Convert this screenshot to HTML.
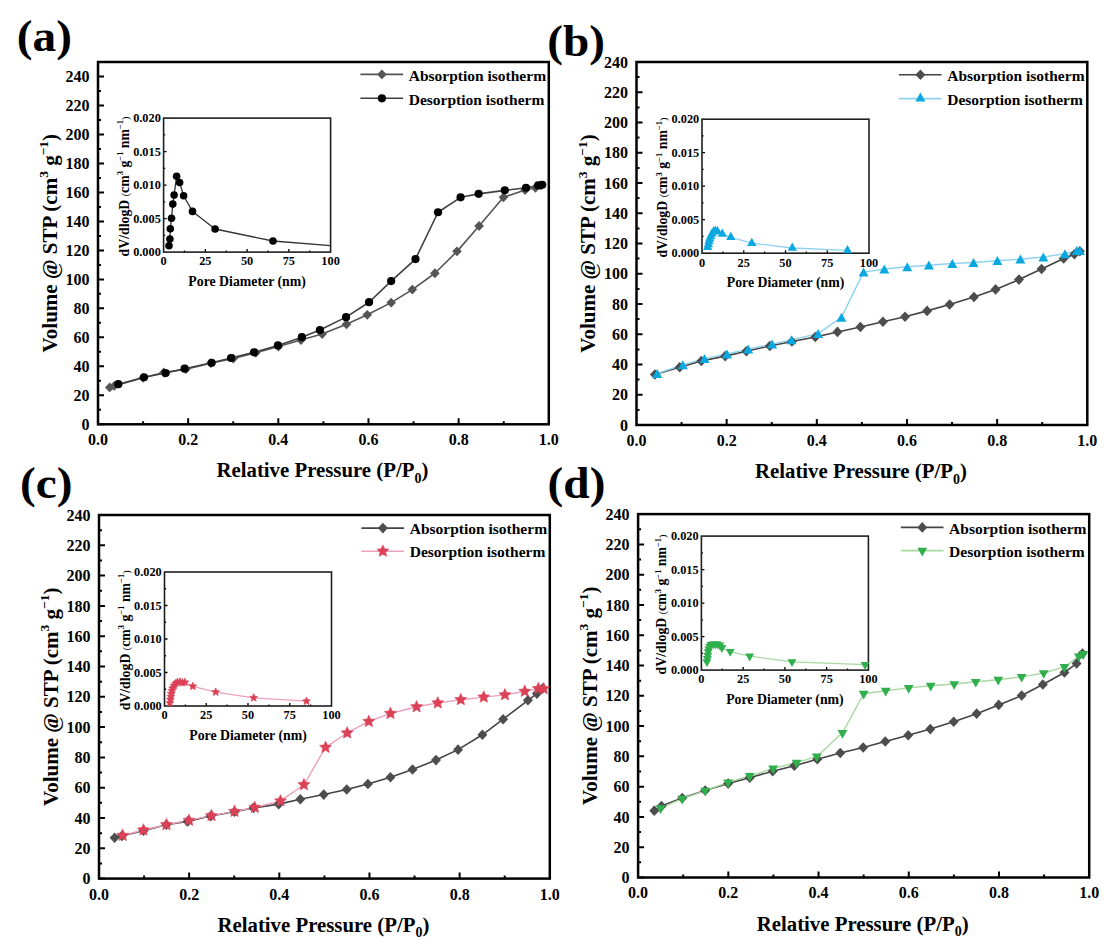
<!DOCTYPE html>
<html><head><meta charset="utf-8"><style>
html,body{margin:0;padding:0;background:#fff;}
body{width:1112px;height:946px;overflow:hidden;}
svg{display:block;}
text{font-family:'Liberation Serif', serif;font-weight:bold;fill:#000;}
</style></head><body>
<svg width="1112" height="946" viewBox="0 0 1112 946">
<rect width="1112" height="946" fill="#fff"/>
<path d="M98 424.3h6M98 409.81h3M98 395.32h6M98 380.82h3M98 366.33h6M98 351.84h3M98 337.35h6M98 322.86h3M98 308.36h6M98 293.87h3M98 279.38h6M98 264.89h3M98 250.4h6M98 235.9h3M98 221.41h6M98 206.92h3M98 192.43h6M98 177.94h3M98 163.44h6M98 148.95h3M98 134.46h6M98 119.97h3M98 105.48h6M98 90.98h3M98 76.49h6M143.08 424.3v-3M188.16 424.3v-6M233.24 424.3v-3M278.32 424.3v-6M323.4 424.3v-3M368.48 424.3v-6M413.56 424.3v-3M458.64 424.3v-6M503.72 424.3v-3" stroke="#000" stroke-width="2" fill="none"/>
<rect x="98" y="62" width="450.8" height="362.3" fill="none" stroke="#000" stroke-width="2.5"/>
<text x="89.4" y="429.9" font-size="16" text-anchor="end" >0</text>
<text x="89.4" y="400.92" font-size="16" text-anchor="end" >20</text>
<text x="89.4" y="371.93" font-size="16" text-anchor="end" >40</text>
<text x="89.4" y="342.95" font-size="16" text-anchor="end" >60</text>
<text x="89.4" y="313.96" font-size="16" text-anchor="end" >80</text>
<text x="89.4" y="284.98" font-size="16" text-anchor="end" >100</text>
<text x="89.4" y="256" font-size="16" text-anchor="end" >120</text>
<text x="89.4" y="227.01" font-size="16" text-anchor="end" >140</text>
<text x="89.4" y="198.03" font-size="16" text-anchor="end" >160</text>
<text x="89.4" y="169.04" font-size="16" text-anchor="end" >180</text>
<text x="89.4" y="140.06" font-size="16" text-anchor="end" >200</text>
<text x="89.4" y="111.08" font-size="16" text-anchor="end" >220</text>
<text x="89.4" y="82.09" font-size="16" text-anchor="end" >240</text>
<text x="98" y="445.2" font-size="16" text-anchor="middle" >0.0</text>
<text x="188.16" y="445.2" font-size="16" text-anchor="middle" >0.2</text>
<text x="278.32" y="445.2" font-size="16" text-anchor="middle" >0.4</text>
<text x="368.48" y="445.2" font-size="16" text-anchor="middle" >0.6</text>
<text x="458.64" y="445.2" font-size="16" text-anchor="middle" >0.8</text>
<text x="548.8" y="445.2" font-size="16" text-anchor="middle" >1.0</text>
<text x="322.4" y="477.3" font-size="20.8" text-anchor="middle">Relative Pressure (P/P<tspan font-size="14" dy="5.6">0</tspan><tspan dy="-5.6">)</tspan></text>
<text transform="translate(56.5 243.15) rotate(-90)" x="0" y="0" font-size="21" text-anchor="middle">Volume @ STP (cm<tspan font-size="13.5" dy="-8.5">3</tspan><tspan dy="8.5"> g</tspan><tspan font-size="13.5" dy="-8.5">&#8722;1</tspan><tspan dy="8.5">)</tspan></text>
<text transform="translate(16.8 50.9) scale(1.075 1.01)" x="0" y="0" font-size="44">(a)</text>
<path d="M360.4 74.4L403.1 74.4" fill="none" stroke="#555" stroke-width="1.6" stroke-linejoin="round"/>
<path d="M381.9 69.5L386.7 74.4L381.9 79.3L377.1 74.4Z" fill="#555"/>
<path d="M360.4 98.3L403.1 98.3" fill="none" stroke="#404040" stroke-width="1.6" stroke-linejoin="round"/>
<circle cx="381.9" cy="98.3" r="4.1" fill="#000"/>
<text x="408.7" y="80.6" font-size="15.5" text-anchor="start" >Absorption isotherm</text>
<text x="408.7" y="104.5" font-size="15.5" text-anchor="start" >Desorption isotherm</text>
<path d="M163.6 235.35h1.6M163.6 218.6h3M163.6 201.85h1.6M163.6 185.1h3M163.6 168.35h1.6M163.6 151.6h3M163.6 134.85h1.6M184.47 252.1v-1.6M205.35 252.1v-3M226.22 252.1v-1.6M247.1 252.1v-3M267.98 252.1v-1.6M288.85 252.1v-3M309.73 252.1v-1.6" stroke="#000" stroke-width="1.3" fill="none"/>
<rect x="163.6" y="118.1" width="167" height="134" fill="none" stroke="#1e1e1e" stroke-width="1.6"/>
<text x="160.8" y="256.3" font-size="12.3" text-anchor="end" >0.000</text>
<text x="160.8" y="222.8" font-size="12.3" text-anchor="end" >0.005</text>
<text x="160.8" y="189.3" font-size="12.3" text-anchor="end" >0.010</text>
<text x="160.8" y="155.8" font-size="12.3" text-anchor="end" >0.015</text>
<text x="160.8" y="122.3" font-size="12.3" text-anchor="end" >0.020</text>
<text x="163.6" y="265.4" font-size="12.3" text-anchor="middle" >0</text>
<text x="205.35" y="265.4" font-size="12.3" text-anchor="middle" >25</text>
<text x="247.1" y="265.4" font-size="12.3" text-anchor="middle" >50</text>
<text x="288.85" y="265.4" font-size="12.3" text-anchor="middle" >75</text>
<text x="330.6" y="265.4" font-size="12.3" text-anchor="middle" >100</text>
<text x="247.1" y="285.7" font-size="13.8" text-anchor="middle" >Pore Diameter (nm)</text>
<text transform="translate(128.6 186.5) rotate(-90)" x="0" y="0" font-size="13.8" text-anchor="middle">dV/dlogD <tspan font-size="10" font-weight="normal">(</tspan>cm<tspan font-size="8.5" dy="-5.5">3</tspan><tspan dy="5.5"> g</tspan><tspan font-size="8.5" dy="-5.5">&#8722;1</tspan><tspan dy="5.5"> nm</tspan><tspan font-size="8.5" dy="-5.5">&#8722;1</tspan><tspan dy="5.5" font-size="10" font-weight="normal">)</tspan></text>
<path d="M169 245.8L169.9 239.1L170.3 228.7L171.5 218.2L172.8 204.1L174.1 195.1L176.6 176.2L179.6 182.5L183.6 195.7L192.5 211.4L215.1 229L273 241L330.6 245.7" fill="none" stroke="#333" stroke-width="1.3" stroke-linejoin="round"/>
<circle cx="169" cy="245.8" r="3.8" fill="#000"/>
<circle cx="169.9" cy="239.1" r="3.8" fill="#000"/>
<circle cx="170.3" cy="228.7" r="3.8" fill="#000"/>
<circle cx="171.5" cy="218.2" r="3.8" fill="#000"/>
<circle cx="172.8" cy="204.1" r="3.8" fill="#000"/>
<circle cx="174.1" cy="195.1" r="3.8" fill="#000"/>
<circle cx="176.6" cy="176.2" r="3.8" fill="#000"/>
<circle cx="179.6" cy="182.5" r="3.8" fill="#000"/>
<circle cx="183.6" cy="195.7" r="3.8" fill="#000"/>
<circle cx="192.5" cy="211.4" r="3.8" fill="#000"/>
<circle cx="215.1" cy="229" r="3.8" fill="#000"/>
<circle cx="273" cy="241" r="3.8" fill="#000"/>
<path d="M109.73 387.41L114.24 385.96L143.1 377.85L163.85 372.49L185.94 369.16L210.75 363.22L233.3 358.58L255.85 352.78L278.4 346.55L300.95 340.03L322.15 334.09L346.5 324.24L367.25 314.83L391.15 302.66L412.35 289.62L434.9 273.25L457 251.37L479.09 226.01L503.45 197.33L525.1 190.08L535.47 187.77L540.88 185.45" fill="none" stroke="#555" stroke-width="1.6" stroke-linejoin="round"/>
<path d="M118.3 384.22L144 377.27L165.65 373.07L184.59 368.72L211.65 362.78L231.04 358L254.05 352.35L277.95 345.4L301.85 337.14L319.89 330.04L346.05 317.14L369.05 302.22L391.15 281.07L415.5 259.05L438.05 212.25L460.6 197.33L478.64 193.85L504.8 190.37L526 187.77L538.18 185.45L542.24 184.87" fill="none" stroke="#404040" stroke-width="1.6" stroke-linejoin="round"/>
<path d="M109.73 382.51L114.53 387.41L109.73 392.31L104.93 387.41Z" fill="#555"/>
<path d="M114.24 381.06L119.04 385.96L114.24 390.86L109.44 385.96Z" fill="#555"/>
<path d="M143.1 372.95L147.9 377.85L143.1 382.75L138.3 377.85Z" fill="#555"/>
<path d="M163.85 367.59L168.65 372.49L163.85 377.39L159.05 372.49Z" fill="#555"/>
<path d="M185.94 364.26L190.75 369.16L185.94 374.06L181.14 369.16Z" fill="#555"/>
<path d="M210.75 358.32L215.55 363.22L210.75 368.12L205.95 363.22Z" fill="#555"/>
<path d="M233.3 353.68L238.1 358.58L233.3 363.48L228.5 358.58Z" fill="#555"/>
<path d="M255.85 347.88L260.65 352.78L255.85 357.68L251.05 352.78Z" fill="#555"/>
<path d="M278.4 341.65L283.2 346.55L278.4 351.45L273.6 346.55Z" fill="#555"/>
<path d="M300.95 335.13L305.75 340.03L300.95 344.93L296.15 340.03Z" fill="#555"/>
<path d="M322.15 329.19L326.95 334.09L322.15 338.99L317.35 334.09Z" fill="#555"/>
<path d="M346.5 319.34L351.3 324.24L346.5 329.14L341.7 324.24Z" fill="#555"/>
<path d="M367.25 309.93L372.05 314.83L367.25 319.73L362.45 314.83Z" fill="#555"/>
<path d="M391.15 297.76L395.95 302.66L391.15 307.56L386.35 302.66Z" fill="#555"/>
<path d="M412.35 284.72L417.15 289.62L412.35 294.52L407.55 289.62Z" fill="#555"/>
<path d="M434.9 268.35L439.7 273.25L434.9 278.15L430.1 273.25Z" fill="#555"/>
<path d="M457 246.47L461.8 251.37L457 256.27L452.2 251.37Z" fill="#555"/>
<path d="M479.09 221.11L483.89 226.01L479.09 230.91L474.29 226.01Z" fill="#555"/>
<path d="M503.45 192.43L508.25 197.33L503.45 202.23L498.65 197.33Z" fill="#555"/>
<path d="M525.1 185.18L529.9 190.08L525.1 194.98L520.3 190.08Z" fill="#555"/>
<path d="M535.47 182.87L540.27 187.77L535.47 192.67L530.67 187.77Z" fill="#555"/>
<path d="M540.88 180.55L545.68 185.45L540.88 190.35L536.08 185.45Z" fill="#555"/>
<circle cx="118.3" cy="384.22" r="4.1" fill="#000"/>
<circle cx="144" cy="377.27" r="4.1" fill="#000"/>
<circle cx="165.65" cy="373.07" r="4.1" fill="#000"/>
<circle cx="184.59" cy="368.72" r="4.1" fill="#000"/>
<circle cx="211.65" cy="362.78" r="4.1" fill="#000"/>
<circle cx="231.04" cy="358" r="4.1" fill="#000"/>
<circle cx="254.05" cy="352.35" r="4.1" fill="#000"/>
<circle cx="277.95" cy="345.4" r="4.1" fill="#000"/>
<circle cx="301.85" cy="337.14" r="4.1" fill="#000"/>
<circle cx="319.89" cy="330.04" r="4.1" fill="#000"/>
<circle cx="346.05" cy="317.14" r="4.1" fill="#000"/>
<circle cx="369.05" cy="302.22" r="4.1" fill="#000"/>
<circle cx="391.15" cy="281.07" r="4.1" fill="#000"/>
<circle cx="415.5" cy="259.05" r="4.1" fill="#000"/>
<circle cx="438.05" cy="212.25" r="4.1" fill="#000"/>
<circle cx="460.6" cy="197.33" r="4.1" fill="#000"/>
<circle cx="478.64" cy="193.85" r="4.1" fill="#000"/>
<circle cx="504.8" cy="190.37" r="4.1" fill="#000"/>
<circle cx="526" cy="187.77" r="4.1" fill="#000"/>
<circle cx="538.18" cy="185.45" r="4.1" fill="#000"/>
<circle cx="542.24" cy="184.87" r="4.1" fill="#000"/>
<path d="M636.5 425h6M636.5 409.88h3M636.5 394.75h6M636.5 379.62h3M636.5 364.5h6M636.5 349.38h3M636.5 334.25h6M636.5 319.12h3M636.5 304h6M636.5 288.88h3M636.5 273.75h6M636.5 258.62h3M636.5 243.5h6M636.5 228.38h3M636.5 213.25h6M636.5 198.12h3M636.5 183h6M636.5 167.88h3M636.5 152.75h6M636.5 137.62h3M636.5 122.5h6M636.5 107.38h3M636.5 92.25h6M636.5 77.12h3M681.58 425v-3M726.66 425v-6M771.74 425v-3M816.82 425v-6M861.9 425v-3M906.98 425v-6M952.06 425v-3M997.14 425v-6M1042.22 425v-3" stroke="#000" stroke-width="2" fill="none"/>
<rect x="636.5" y="62" width="450.8" height="363" fill="none" stroke="#000" stroke-width="2.5"/>
<text x="627.9" y="430.6" font-size="16" text-anchor="end" >0</text>
<text x="627.9" y="400.35" font-size="16" text-anchor="end" >20</text>
<text x="627.9" y="370.1" font-size="16" text-anchor="end" >40</text>
<text x="627.9" y="339.85" font-size="16" text-anchor="end" >60</text>
<text x="627.9" y="309.6" font-size="16" text-anchor="end" >80</text>
<text x="627.9" y="279.35" font-size="16" text-anchor="end" >100</text>
<text x="627.9" y="249.1" font-size="16" text-anchor="end" >120</text>
<text x="627.9" y="218.85" font-size="16" text-anchor="end" >140</text>
<text x="627.9" y="188.6" font-size="16" text-anchor="end" >160</text>
<text x="627.9" y="158.35" font-size="16" text-anchor="end" >180</text>
<text x="627.9" y="128.1" font-size="16" text-anchor="end" >200</text>
<text x="627.9" y="97.85" font-size="16" text-anchor="end" >220</text>
<text x="627.9" y="67.6" font-size="16" text-anchor="end" >240</text>
<text x="636.5" y="445.9" font-size="16" text-anchor="middle" >0.0</text>
<text x="726.66" y="445.9" font-size="16" text-anchor="middle" >0.2</text>
<text x="816.82" y="445.9" font-size="16" text-anchor="middle" >0.4</text>
<text x="906.98" y="445.9" font-size="16" text-anchor="middle" >0.6</text>
<text x="997.14" y="445.9" font-size="16" text-anchor="middle" >0.8</text>
<text x="1087.3" y="445.9" font-size="16" text-anchor="middle" >1.0</text>
<text x="860.9" y="478" font-size="20.8" text-anchor="middle">Relative Pressure (P/P<tspan font-size="14" dy="5.6">0</tspan><tspan dy="-5.6">)</tspan></text>
<text transform="translate(595 243.5) rotate(-90)" x="0" y="0" font-size="21" text-anchor="middle">Volume @ STP (cm<tspan font-size="13.5" dy="-8.5">3</tspan><tspan dy="8.5"> g</tspan><tspan font-size="13.5" dy="-8.5">&#8722;1</tspan><tspan dy="8.5">)</tspan></text>
<text transform="translate(547.3 55.7) scale(1.075 1.01)" x="0" y="0" font-size="44">(b)</text>
<path d="M898.9 74.8L941.6 74.8" fill="none" stroke="#444" stroke-width="1.6" stroke-linejoin="round"/>
<path d="M920.4 69.5L925.4 74.8L920.4 80.1L915.4 74.8Z" fill="#4d4d4d"/>
<path d="M898.9 98.6L941.6 98.6" fill="none" stroke="#8fd2f0" stroke-width="1.6" stroke-linejoin="round"/>
<path d="M920.4 92.6L925.4 101.6L915.4 101.6Z" fill="#0aa8e0"/>
<text x="947.2" y="81" font-size="15.5" text-anchor="start" >Absorption isotherm</text>
<text x="947.2" y="104.8" font-size="15.5" text-anchor="start" >Desorption isotherm</text>
<path d="M702 236.45h1.6M702 219.7h3M702 202.95h1.6M702 186.2h3M702 169.45h1.6M702 152.7h3M702 135.95h1.6M722.88 253.2v-1.6M743.75 253.2v-3M764.62 253.2v-1.6M785.5 253.2v-3M806.38 253.2v-1.6M827.25 253.2v-3M848.12 253.2v-1.6" stroke="#000" stroke-width="1.3" fill="none"/>
<rect x="702" y="119.2" width="167" height="134" fill="none" stroke="#1e1e1e" stroke-width="1.6"/>
<text x="699.2" y="257.4" font-size="12.3" text-anchor="end" >0.000</text>
<text x="699.2" y="223.9" font-size="12.3" text-anchor="end" >0.005</text>
<text x="699.2" y="190.4" font-size="12.3" text-anchor="end" >0.010</text>
<text x="699.2" y="156.9" font-size="12.3" text-anchor="end" >0.015</text>
<text x="699.2" y="123.4" font-size="12.3" text-anchor="end" >0.020</text>
<text x="702" y="266.5" font-size="12.3" text-anchor="middle" >0</text>
<text x="743.75" y="266.5" font-size="12.3" text-anchor="middle" >25</text>
<text x="785.5" y="266.5" font-size="12.3" text-anchor="middle" >50</text>
<text x="827.25" y="266.5" font-size="12.3" text-anchor="middle" >75</text>
<text x="869" y="266.5" font-size="12.3" text-anchor="middle" >100</text>
<text x="785.5" y="286.8" font-size="13.8" text-anchor="middle" >Pore Diameter (nm)</text>
<text transform="translate(667 187.6) rotate(-90)" x="0" y="0" font-size="13.8" text-anchor="middle">dV/dlogD <tspan font-size="10" font-weight="normal">(</tspan>cm<tspan font-size="8.5" dy="-5.5">3</tspan><tspan dy="5.5"> g</tspan><tspan font-size="8.5" dy="-5.5">&#8722;1</tspan><tspan dy="5.5"> nm</tspan><tspan font-size="8.5" dy="-5.5">&#8722;1</tspan><tspan dy="5.5" font-size="10" font-weight="normal">)</tspan></text>
<path d="M707.7 247.2L708.4 244.5L709 241.5L709.8 239L710.7 236.4L712 233.9L713.6 231.8L715.3 230.9L717.5 231.4L722.3 233.9L730.8 237.3L751.8 243.2L792.3 248L847.5 250.4" fill="none" stroke="#8fd2f0" stroke-width="1.3" stroke-linejoin="round"/>
<path d="M707.7 241.73L712.35 249.93L703.05 249.93Z" fill="#0aa8e0"/>
<path d="M708.4 239.03L713.05 247.23L703.75 247.23Z" fill="#0aa8e0"/>
<path d="M709 236.03L713.65 244.23L704.35 244.23Z" fill="#0aa8e0"/>
<path d="M709.8 233.53L714.45 241.73L705.15 241.73Z" fill="#0aa8e0"/>
<path d="M710.7 230.93L715.35 239.13L706.05 239.13Z" fill="#0aa8e0"/>
<path d="M712 228.43L716.65 236.63L707.35 236.63Z" fill="#0aa8e0"/>
<path d="M713.6 226.33L718.25 234.53L708.95 234.53Z" fill="#0aa8e0"/>
<path d="M715.3 225.43L719.95 233.63L710.65 233.63Z" fill="#0aa8e0"/>
<path d="M717.5 225.93L722.15 234.13L712.85 234.13Z" fill="#0aa8e0"/>
<path d="M722.3 228.43L726.95 236.63L717.65 236.63Z" fill="#0aa8e0"/>
<path d="M730.8 231.83L735.45 240.03L726.15 240.03Z" fill="#0aa8e0"/>
<path d="M751.8 237.73L756.45 245.93L747.15 245.93Z" fill="#0aa8e0"/>
<path d="M792.3 242.53L796.95 250.73L787.65 250.73Z" fill="#0aa8e0"/>
<path d="M847.5 244.93L852.15 253.13L842.85 253.13Z" fill="#0aa8e0"/>
<path d="M654.92 374.55L679.71 367.29L701.34 360.94L725.22 356.1L746.4 351.26L769.83 345.97L791.91 341.43L815.34 337.05L837.42 331.91L860.4 327.07L882.93 321.78L905.01 316.79L927.09 310.89L949.62 304.54L973.95 296.98L995.58 289.42L1019.01 279.59L1041.54 269L1063.62 258.57L1074.43 254.19L1079.84 251.31" fill="none" stroke="#444" stroke-width="1.6" stroke-linejoin="round"/>
<path d="M657.18 373.49L682.86 364.87L704.49 358.67L727.02 353.98L748.2 349.14L772.08 344.15L791.46 339.92L818.04 333.57L841.47 317.39L863.55 272.18L884.28 269L907.26 266.74L928.89 265.22L952.32 263.56L973.5 262.5L997.38 260.69L1020.36 259.18L1043.34 257.06L1064.97 253.73L1076.69 250.56L1079.84 250.56" fill="none" stroke="#8fd2f0" stroke-width="1.4" stroke-linejoin="round"/>
<path d="M654.92 369.25L659.92 374.55L654.92 379.85L649.92 374.55Z" fill="#4d4d4d"/>
<path d="M679.71 361.99L684.71 367.29L679.71 372.59L674.71 367.29Z" fill="#4d4d4d"/>
<path d="M701.34 355.64L706.34 360.94L701.34 366.24L696.34 360.94Z" fill="#4d4d4d"/>
<path d="M725.22 350.8L730.22 356.1L725.22 361.4L720.22 356.1Z" fill="#4d4d4d"/>
<path d="M746.4 345.96L751.4 351.26L746.4 356.56L741.4 351.26Z" fill="#4d4d4d"/>
<path d="M769.83 340.67L774.83 345.97L769.83 351.27L764.83 345.97Z" fill="#4d4d4d"/>
<path d="M791.91 336.13L796.91 341.43L791.91 346.73L786.91 341.43Z" fill="#4d4d4d"/>
<path d="M815.34 331.75L820.34 337.05L815.34 342.35L810.34 337.05Z" fill="#4d4d4d"/>
<path d="M837.42 326.61L842.42 331.91L837.42 337.21L832.42 331.91Z" fill="#4d4d4d"/>
<path d="M860.4 321.77L865.4 327.07L860.4 332.37L855.4 327.07Z" fill="#4d4d4d"/>
<path d="M882.93 316.48L887.93 321.78L882.93 327.08L877.93 321.78Z" fill="#4d4d4d"/>
<path d="M905.01 311.49L910.01 316.79L905.01 322.09L900.01 316.79Z" fill="#4d4d4d"/>
<path d="M927.09 305.59L932.09 310.89L927.09 316.19L922.09 310.89Z" fill="#4d4d4d"/>
<path d="M949.62 299.24L954.62 304.54L949.62 309.84L944.62 304.54Z" fill="#4d4d4d"/>
<path d="M973.95 291.68L978.95 296.98L973.95 302.28L968.95 296.98Z" fill="#4d4d4d"/>
<path d="M995.58 284.12L1000.58 289.42L995.58 294.72L990.58 289.42Z" fill="#4d4d4d"/>
<path d="M1019.01 274.29L1024.01 279.59L1019.01 284.89L1014.01 279.59Z" fill="#4d4d4d"/>
<path d="M1041.54 263.7L1046.54 269L1041.54 274.3L1036.54 269Z" fill="#4d4d4d"/>
<path d="M1063.62 253.27L1068.62 258.57L1063.62 263.87L1058.62 258.57Z" fill="#4d4d4d"/>
<path d="M1074.43 248.89L1079.43 254.19L1074.43 259.49L1069.43 254.19Z" fill="#4d4d4d"/>
<path d="M1079.84 246.01L1084.84 251.31L1079.84 256.61L1074.84 251.31Z" fill="#4d4d4d"/>
<path d="M657.18 368.89L662.18 377.89L652.18 377.89Z" fill="#0aa8e0"/>
<path d="M682.86 360.27L687.86 369.27L677.86 369.27Z" fill="#0aa8e0"/>
<path d="M704.49 354.07L709.49 363.07L699.49 363.07Z" fill="#0aa8e0"/>
<path d="M727.02 349.38L732.02 358.38L722.02 358.38Z" fill="#0aa8e0"/>
<path d="M748.2 344.54L753.2 353.54L743.2 353.54Z" fill="#0aa8e0"/>
<path d="M772.08 339.55L777.08 348.55L767.08 348.55Z" fill="#0aa8e0"/>
<path d="M791.46 335.32L796.46 344.32L786.46 344.32Z" fill="#0aa8e0"/>
<path d="M818.04 328.97L823.04 337.97L813.04 337.97Z" fill="#0aa8e0"/>
<path d="M841.47 312.79L846.47 321.79L836.47 321.79Z" fill="#0aa8e0"/>
<path d="M863.55 267.58L868.55 276.58L858.55 276.58Z" fill="#0aa8e0"/>
<path d="M884.28 264.4L889.28 273.4L879.28 273.4Z" fill="#0aa8e0"/>
<path d="M907.26 262.14L912.26 271.14L902.26 271.14Z" fill="#0aa8e0"/>
<path d="M928.89 260.62L933.89 269.62L923.89 269.62Z" fill="#0aa8e0"/>
<path d="M952.32 258.96L957.32 267.96L947.32 267.96Z" fill="#0aa8e0"/>
<path d="M973.5 257.9L978.5 266.9L968.5 266.9Z" fill="#0aa8e0"/>
<path d="M997.38 256.09L1002.38 265.09L992.38 265.09Z" fill="#0aa8e0"/>
<path d="M1020.36 254.58L1025.36 263.58L1015.36 263.58Z" fill="#0aa8e0"/>
<path d="M1043.34 252.46L1048.34 261.46L1038.34 261.46Z" fill="#0aa8e0"/>
<path d="M1064.97 249.13L1069.97 258.13L1059.97 258.13Z" fill="#0aa8e0"/>
<path d="M1076.69 245.96L1081.69 254.96L1071.69 254.96Z" fill="#0aa8e0"/>
<path d="M1079.84 245.96L1084.84 254.96L1074.84 254.96Z" fill="#0aa8e0"/>
<path d="M99 878.6h6M99 863.45h3M99 848.3h6M99 833.15h3M99 818h6M99 802.85h3M99 787.7h6M99 772.55h3M99 757.4h6M99 742.25h3M99 727.1h6M99 711.95h3M99 696.8h6M99 681.65h3M99 666.5h6M99 651.35h3M99 636.2h6M99 621.05h3M99 605.9h6M99 590.75h3M99 575.6h6M99 560.45h3M99 545.3h6M99 530.15h3M144.08 878.6v-3M189.16 878.6v-6M234.24 878.6v-3M279.32 878.6v-6M324.4 878.6v-3M369.48 878.6v-6M414.56 878.6v-3M459.64 878.6v-6M504.72 878.6v-3" stroke="#000" stroke-width="2" fill="none"/>
<rect x="99" y="515" width="450.8" height="363.6" fill="none" stroke="#000" stroke-width="2.5"/>
<text x="90.4" y="884.2" font-size="16" text-anchor="end" >0</text>
<text x="90.4" y="853.9" font-size="16" text-anchor="end" >20</text>
<text x="90.4" y="823.6" font-size="16" text-anchor="end" >40</text>
<text x="90.4" y="793.3" font-size="16" text-anchor="end" >60</text>
<text x="90.4" y="763" font-size="16" text-anchor="end" >80</text>
<text x="90.4" y="732.7" font-size="16" text-anchor="end" >100</text>
<text x="90.4" y="702.4" font-size="16" text-anchor="end" >120</text>
<text x="90.4" y="672.1" font-size="16" text-anchor="end" >140</text>
<text x="90.4" y="641.8" font-size="16" text-anchor="end" >160</text>
<text x="90.4" y="611.5" font-size="16" text-anchor="end" >180</text>
<text x="90.4" y="581.2" font-size="16" text-anchor="end" >200</text>
<text x="90.4" y="550.9" font-size="16" text-anchor="end" >220</text>
<text x="90.4" y="520.6" font-size="16" text-anchor="end" >240</text>
<text x="99" y="899.5" font-size="16" text-anchor="middle" >0.0</text>
<text x="189.16" y="899.5" font-size="16" text-anchor="middle" >0.2</text>
<text x="279.32" y="899.5" font-size="16" text-anchor="middle" >0.4</text>
<text x="369.48" y="899.5" font-size="16" text-anchor="middle" >0.6</text>
<text x="459.64" y="899.5" font-size="16" text-anchor="middle" >0.8</text>
<text x="549.8" y="899.5" font-size="16" text-anchor="middle" >1.0</text>
<text x="323.4" y="931.6" font-size="20.8" text-anchor="middle">Relative Pressure (P/P<tspan font-size="14" dy="5.6">0</tspan><tspan dy="-5.6">)</tspan></text>
<text transform="translate(57.5 696.8) rotate(-90)" x="0" y="0" font-size="21" text-anchor="middle">Volume @ STP (cm<tspan font-size="13.5" dy="-8.5">3</tspan><tspan dy="8.5"> g</tspan><tspan font-size="13.5" dy="-8.5">&#8722;1</tspan><tspan dy="8.5">)</tspan></text>
<text transform="translate(20.1 497.9) scale(1.075 1.01)" x="0" y="0" font-size="44">(c)</text>
<path d="M361.4 528.1L404.1 528.1" fill="none" stroke="#444" stroke-width="1.6" stroke-linejoin="round"/>
<path d="M382.9 522.8L387.9 528.1L382.9 533.4L377.9 528.1Z" fill="#4d4d4d"/>
<path d="M361.4 551.2L404.1 551.2" fill="none" stroke="#eba1bd" stroke-width="1.6" stroke-linejoin="round"/>
<path d="M382.9 544.9L384.64 548.8L388.89 549.25L385.72 552.11L386.6 556.3L382.9 554.16L379.2 556.3L380.08 552.11L376.91 549.25L381.16 548.8Z" fill="#dc4257" stroke="#dc4257" stroke-width="0.6" stroke-linejoin="round"/>
<text x="409.7" y="534.3" font-size="15.5" text-anchor="start" >Absorption isotherm</text>
<text x="409.7" y="557.4" font-size="15.5" text-anchor="start" >Desorption isotherm</text>
<path d="M164.5 689.25h1.6M164.5 672.5h3M164.5 655.75h1.6M164.5 639h3M164.5 622.25h1.6M164.5 605.5h3M164.5 588.75h1.6M185.38 706v-1.6M206.25 706v-3M227.12 706v-1.6M248 706v-3M268.88 706v-1.6M289.75 706v-3M310.62 706v-1.6" stroke="#000" stroke-width="1.3" fill="none"/>
<rect x="164.5" y="572" width="167" height="134" fill="none" stroke="#1e1e1e" stroke-width="1.6"/>
<text x="161.7" y="710.2" font-size="12.3" text-anchor="end" >0.000</text>
<text x="161.7" y="676.7" font-size="12.3" text-anchor="end" >0.005</text>
<text x="161.7" y="643.2" font-size="12.3" text-anchor="end" >0.010</text>
<text x="161.7" y="609.7" font-size="12.3" text-anchor="end" >0.015</text>
<text x="161.7" y="576.2" font-size="12.3" text-anchor="end" >0.020</text>
<text x="164.5" y="719.3" font-size="12.3" text-anchor="middle" >0</text>
<text x="206.25" y="719.3" font-size="12.3" text-anchor="middle" >25</text>
<text x="248" y="719.3" font-size="12.3" text-anchor="middle" >50</text>
<text x="289.75" y="719.3" font-size="12.3" text-anchor="middle" >75</text>
<text x="331.5" y="719.3" font-size="12.3" text-anchor="middle" >100</text>
<text x="248" y="739.6" font-size="13.8" text-anchor="middle" >Pore Diameter (nm)</text>
<text transform="translate(129.5 640.4) rotate(-90)" x="0" y="0" font-size="13.8" text-anchor="middle">dV/dlogD <tspan font-size="10" font-weight="normal">(</tspan>cm<tspan font-size="8.5" dy="-5.5">3</tspan><tspan dy="5.5"> g</tspan><tspan font-size="8.5" dy="-5.5">&#8722;1</tspan><tspan dy="5.5"> nm</tspan><tspan font-size="8.5" dy="-5.5">&#8722;1</tspan><tspan dy="5.5" font-size="10" font-weight="normal">)</tspan></text>
<path d="M169.9 703L170.4 699.6L170.8 696.6L171.2 693.7L171.8 690.7L172.7 688.2L174 685.6L175.6 683.5L177.3 682.3L179.9 681.8L182.4 682.7L184.9 682.3L192.8 686.3L215.7 692.1L253.7 697.8L306.5 701.2" fill="none" stroke="#eba1bd" stroke-width="1.3" stroke-linejoin="round"/>
<path d="M169.9 698.8L171.06 701.4L173.89 701.7L171.78 703.61L172.37 706.4L169.9 704.97L167.43 706.4L168.02 703.61L165.91 701.7L168.74 701.4Z" fill="#dc4257" stroke="#dc4257" stroke-width="0.6" stroke-linejoin="round"/>
<path d="M170.4 695.4L171.56 698L174.39 698.3L172.28 700.21L172.87 703L170.4 701.57L167.93 703L168.52 700.21L166.41 698.3L169.24 698Z" fill="#dc4257" stroke="#dc4257" stroke-width="0.6" stroke-linejoin="round"/>
<path d="M170.8 692.4L171.96 695L174.79 695.3L172.68 697.21L173.27 700L170.8 698.57L168.33 700L168.92 697.21L166.81 695.3L169.64 695Z" fill="#dc4257" stroke="#dc4257" stroke-width="0.6" stroke-linejoin="round"/>
<path d="M171.2 689.5L172.36 692.1L175.19 692.4L173.08 694.31L173.67 697.1L171.2 695.67L168.73 697.1L169.32 694.31L167.21 692.4L170.04 692.1Z" fill="#dc4257" stroke="#dc4257" stroke-width="0.6" stroke-linejoin="round"/>
<path d="M171.8 686.5L172.96 689.1L175.79 689.4L173.68 691.31L174.27 694.1L171.8 692.67L169.33 694.1L169.92 691.31L167.81 689.4L170.64 689.1Z" fill="#dc4257" stroke="#dc4257" stroke-width="0.6" stroke-linejoin="round"/>
<path d="M172.7 684L173.86 686.6L176.69 686.9L174.58 688.81L175.17 691.6L172.7 690.17L170.23 691.6L170.82 688.81L168.71 686.9L171.54 686.6Z" fill="#dc4257" stroke="#dc4257" stroke-width="0.6" stroke-linejoin="round"/>
<path d="M174 681.4L175.16 684L177.99 684.3L175.88 686.21L176.47 689L174 687.57L171.53 689L172.12 686.21L170.01 684.3L172.84 684Z" fill="#dc4257" stroke="#dc4257" stroke-width="0.6" stroke-linejoin="round"/>
<path d="M175.6 679.3L176.76 681.9L179.59 682.2L177.48 684.11L178.07 686.9L175.6 685.47L173.13 686.9L173.72 684.11L171.61 682.2L174.44 681.9Z" fill="#dc4257" stroke="#dc4257" stroke-width="0.6" stroke-linejoin="round"/>
<path d="M177.3 678.1L178.46 680.7L181.29 681L179.18 682.91L179.77 685.7L177.3 684.27L174.83 685.7L175.42 682.91L173.31 681L176.14 680.7Z" fill="#dc4257" stroke="#dc4257" stroke-width="0.6" stroke-linejoin="round"/>
<path d="M179.9 677.6L181.06 680.2L183.89 680.5L181.78 682.41L182.37 685.2L179.9 683.77L177.43 685.2L178.02 682.41L175.91 680.5L178.74 680.2Z" fill="#dc4257" stroke="#dc4257" stroke-width="0.6" stroke-linejoin="round"/>
<path d="M182.4 678.5L183.56 681.1L186.39 681.4L184.28 683.31L184.87 686.1L182.4 684.67L179.93 686.1L180.52 683.31L178.41 681.4L181.24 681.1Z" fill="#dc4257" stroke="#dc4257" stroke-width="0.6" stroke-linejoin="round"/>
<path d="M184.9 678.1L186.06 680.7L188.89 681L186.78 682.91L187.37 685.7L184.9 684.27L182.43 685.7L183.02 682.91L180.91 681L183.74 680.7Z" fill="#dc4257" stroke="#dc4257" stroke-width="0.6" stroke-linejoin="round"/>
<path d="M192.8 682.1L193.96 684.7L196.79 685L194.68 686.91L195.27 689.7L192.8 688.27L190.33 689.7L190.92 686.91L188.81 685L191.64 684.7Z" fill="#dc4257" stroke="#dc4257" stroke-width="0.6" stroke-linejoin="round"/>
<path d="M215.7 687.9L216.86 690.5L219.69 690.8L217.58 692.71L218.17 695.5L215.7 694.07L213.23 695.5L213.82 692.71L211.71 690.8L214.54 690.5Z" fill="#dc4257" stroke="#dc4257" stroke-width="0.6" stroke-linejoin="round"/>
<path d="M253.7 693.6L254.86 696.2L257.69 696.5L255.58 698.41L256.17 701.2L253.7 699.77L251.23 701.2L251.82 698.41L249.71 696.5L252.54 696.2Z" fill="#dc4257" stroke="#dc4257" stroke-width="0.6" stroke-linejoin="round"/>
<path d="M306.5 697L307.66 699.6L310.49 699.9L308.38 701.81L308.97 704.6L306.5 703.17L304.03 704.6L304.62 701.81L302.51 699.9L305.34 699.6Z" fill="#dc4257" stroke="#dc4257" stroke-width="0.6" stroke-linejoin="round"/>
<path d="M114.62 837.73L121.83 835.91L143.47 830.77L166.45 824.71L187.64 821.38L210.62 816.08L234.51 811.69L253.44 807.91L278.68 804.13L300.31 799.28L323.75 794.59L346.73 789.44L367.92 783.99L390.45 777.18L412.54 769.46L435.97 760.08L458.06 749.63L482.39 734.8L503.13 719.2L527.92 700.28L536.93 693.62L542.34 688.63" fill="none" stroke="#444" stroke-width="1.6" stroke-linejoin="round"/>
<path d="M122.74 835.46L143.47 830.01L166.45 824.71L188.99 820.32L211.52 815.63L234.51 811.39L254.79 807.46L280.48 800.95L303.92 784.75L325.55 747.36L347.19 732.98L368.82 721.48L390.45 713.45L416.59 706.79L437.78 703.01L460.76 699.68L483.75 697.1L504.93 694.83L524.76 691.35L538.28 688.63L543.69 688.63" fill="none" stroke="#eba1bd" stroke-width="1.4" stroke-linejoin="round"/>
<path d="M114.62 832.43L119.62 837.73L114.62 843.03L109.62 837.73Z" fill="#4d4d4d"/>
<path d="M121.83 830.62L126.83 835.91L121.83 841.21L116.83 835.91Z" fill="#4d4d4d"/>
<path d="M143.47 825.47L148.47 830.77L143.47 836.07L138.47 830.77Z" fill="#4d4d4d"/>
<path d="M166.45 819.41L171.45 824.71L166.45 830.01L161.45 824.71Z" fill="#4d4d4d"/>
<path d="M187.64 816.08L192.64 821.38L187.64 826.68L182.64 821.38Z" fill="#4d4d4d"/>
<path d="M210.62 810.78L215.62 816.08L210.62 821.38L205.62 816.08Z" fill="#4d4d4d"/>
<path d="M234.51 806.39L239.51 811.69L234.51 816.99L229.51 811.69Z" fill="#4d4d4d"/>
<path d="M253.44 802.61L258.44 807.91L253.44 813.21L248.44 807.91Z" fill="#4d4d4d"/>
<path d="M278.68 798.83L283.68 804.13L278.68 809.43L273.68 804.13Z" fill="#4d4d4d"/>
<path d="M300.31 793.98L305.31 799.28L300.31 804.58L295.31 799.28Z" fill="#4d4d4d"/>
<path d="M323.75 789.29L328.75 794.59L323.75 799.89L318.75 794.59Z" fill="#4d4d4d"/>
<path d="M346.73 784.14L351.73 789.44L346.73 794.74L341.73 789.44Z" fill="#4d4d4d"/>
<path d="M367.92 778.69L372.92 783.99L367.92 789.29L362.92 783.99Z" fill="#4d4d4d"/>
<path d="M390.45 771.88L395.45 777.18L390.45 782.48L385.45 777.18Z" fill="#4d4d4d"/>
<path d="M412.54 764.16L417.54 769.46L412.54 774.76L407.54 769.46Z" fill="#4d4d4d"/>
<path d="M435.97 754.78L440.97 760.08L435.97 765.38L430.97 760.08Z" fill="#4d4d4d"/>
<path d="M458.06 744.33L463.06 749.63L458.06 754.93L453.06 749.63Z" fill="#4d4d4d"/>
<path d="M482.39 729.5L487.39 734.8L482.39 740.1L477.39 734.8Z" fill="#4d4d4d"/>
<path d="M503.13 713.9L508.13 719.2L503.13 724.5L498.13 719.2Z" fill="#4d4d4d"/>
<path d="M527.92 694.98L532.92 700.28L527.92 705.58L522.92 700.28Z" fill="#4d4d4d"/>
<path d="M536.93 688.32L541.93 693.62L536.93 698.92L531.93 693.62Z" fill="#4d4d4d"/>
<path d="M542.34 683.33L547.34 688.63L542.34 693.93L537.34 688.63Z" fill="#4d4d4d"/>
<path d="M122.74 829.16L124.48 833.07L128.73 833.51L125.55 836.38L126.44 840.56L122.74 838.42L119.03 840.56L119.92 836.38L116.74 833.51L121 833.07Z" fill="#dc4257" stroke="#dc4257" stroke-width="0.6" stroke-linejoin="round"/>
<path d="M143.47 823.71L145.21 827.62L149.46 828.06L146.28 830.93L147.17 835.11L143.47 832.97L139.77 835.11L140.65 830.93L137.48 828.06L141.73 827.62Z" fill="#dc4257" stroke="#dc4257" stroke-width="0.6" stroke-linejoin="round"/>
<path d="M166.45 818.41L168.19 822.32L172.45 822.77L169.27 825.63L170.16 829.81L166.45 827.67L162.75 829.81L163.64 825.63L160.46 822.77L164.71 822.32Z" fill="#dc4257" stroke="#dc4257" stroke-width="0.6" stroke-linejoin="round"/>
<path d="M188.99 814.02L190.73 817.93L194.98 818.38L191.81 821.24L192.69 825.42L188.99 823.28L185.29 825.42L186.17 821.24L183 818.38L187.25 817.93Z" fill="#dc4257" stroke="#dc4257" stroke-width="0.6" stroke-linejoin="round"/>
<path d="M211.52 809.33L213.26 813.24L217.52 813.68L214.34 816.55L215.23 820.73L211.52 818.59L207.82 820.73L208.71 816.55L205.53 813.68L209.78 813.24Z" fill="#dc4257" stroke="#dc4257" stroke-width="0.6" stroke-linejoin="round"/>
<path d="M234.51 805.09L236.25 809L240.5 809.45L237.33 812.31L238.21 816.49L234.51 814.35L230.81 816.49L231.69 812.31L228.52 809.45L232.77 809Z" fill="#dc4257" stroke="#dc4257" stroke-width="0.6" stroke-linejoin="round"/>
<path d="M254.79 801.16L256.53 805.06L260.78 805.51L257.61 808.37L258.49 812.55L254.79 810.42L251.09 812.55L251.98 808.37L248.8 805.51L253.05 805.06Z" fill="#dc4257" stroke="#dc4257" stroke-width="0.6" stroke-linejoin="round"/>
<path d="M280.48 794.65L282.22 798.55L286.47 799L283.3 801.86L284.18 806.04L280.48 803.91L276.78 806.04L277.67 801.86L274.49 799L278.74 798.55Z" fill="#dc4257" stroke="#dc4257" stroke-width="0.6" stroke-linejoin="round"/>
<path d="M303.92 778.45L305.66 782.35L309.91 782.8L306.73 785.67L307.62 789.85L303.92 787.71L300.21 789.85L301.1 785.67L297.93 782.8L302.18 782.35Z" fill="#dc4257" stroke="#dc4257" stroke-width="0.6" stroke-linejoin="round"/>
<path d="M325.55 741.06L327.29 744.97L331.54 745.41L328.37 748.28L329.25 752.46L325.55 750.32L321.85 752.46L322.74 748.28L319.56 745.41L323.81 744.97Z" fill="#dc4257" stroke="#dc4257" stroke-width="0.6" stroke-linejoin="round"/>
<path d="M347.19 726.68L348.93 730.58L353.18 731.03L350 733.89L350.89 738.08L347.19 735.94L343.48 738.08L344.37 733.89L341.19 731.03L345.44 730.58Z" fill="#dc4257" stroke="#dc4257" stroke-width="0.6" stroke-linejoin="round"/>
<path d="M368.82 715.18L370.56 719.08L374.81 719.53L371.63 722.39L372.52 726.57L368.82 724.44L365.12 726.57L366 722.39L362.83 719.53L367.08 719.08Z" fill="#dc4257" stroke="#dc4257" stroke-width="0.6" stroke-linejoin="round"/>
<path d="M390.45 707.15L392.19 711.06L396.44 711.51L393.27 714.37L394.16 718.55L390.45 716.41L386.75 718.55L387.64 714.37L384.46 711.51L388.71 711.06Z" fill="#dc4257" stroke="#dc4257" stroke-width="0.6" stroke-linejoin="round"/>
<path d="M416.59 700.49L418.33 704.4L422.58 704.85L419.41 707.71L420.3 711.89L416.59 709.75L412.89 711.89L413.78 707.71L410.6 704.85L414.85 704.4Z" fill="#dc4257" stroke="#dc4257" stroke-width="0.6" stroke-linejoin="round"/>
<path d="M437.78 696.71L439.52 700.61L443.77 701.06L440.59 703.92L441.48 708.1L437.78 705.97L434.07 708.1L434.96 703.92L431.78 701.06L436.04 700.61Z" fill="#dc4257" stroke="#dc4257" stroke-width="0.6" stroke-linejoin="round"/>
<path d="M460.76 693.38L462.5 697.28L466.75 697.73L463.58 700.59L464.46 704.77L460.76 702.64L457.06 704.77L457.95 700.59L454.77 697.73L459.02 697.28Z" fill="#dc4257" stroke="#dc4257" stroke-width="0.6" stroke-linejoin="round"/>
<path d="M483.75 690.8L485.49 694.71L489.74 695.16L486.56 698.02L487.45 702.2L483.75 700.07L480.04 702.2L480.93 698.02L477.76 695.16L482.01 694.71Z" fill="#dc4257" stroke="#dc4257" stroke-width="0.6" stroke-linejoin="round"/>
<path d="M504.93 688.53L506.67 692.44L510.92 692.89L507.75 695.75L508.63 699.93L504.93 697.79L501.23 699.93L502.11 695.75L498.94 692.89L503.19 692.44Z" fill="#dc4257" stroke="#dc4257" stroke-width="0.6" stroke-linejoin="round"/>
<path d="M524.76 685.05L526.5 688.96L530.75 689.41L527.58 692.27L528.46 696.45L524.76 694.31L521.06 696.45L521.94 692.27L518.77 689.41L523.02 688.96Z" fill="#dc4257" stroke="#dc4257" stroke-width="0.6" stroke-linejoin="round"/>
<path d="M538.28 682.33L540.02 686.23L544.27 686.68L541.1 689.54L541.98 693.72L538.28 691.59L534.58 693.72L535.47 689.54L532.29 686.68L536.54 686.23Z" fill="#dc4257" stroke="#dc4257" stroke-width="0.6" stroke-linejoin="round"/>
<path d="M543.69 682.33L545.43 686.23L549.68 686.68L546.51 689.54L547.39 693.72L543.69 691.59L539.99 693.72L540.87 689.54L537.7 686.68L541.95 686.23Z" fill="#dc4257" stroke="#dc4257" stroke-width="0.6" stroke-linejoin="round"/>
<path d="M638.1 877.5h6M638.1 862.36h3M638.1 847.22h6M638.1 832.08h3M638.1 816.93h6M638.1 801.79h3M638.1 786.65h6M638.1 771.51h3M638.1 756.37h6M638.1 741.23h3M638.1 726.08h6M638.1 710.94h3M638.1 695.8h6M638.1 680.66h3M638.1 665.52h6M638.1 650.38h3M638.1 635.23h6M638.1 620.09h3M638.1 604.95h6M638.1 589.81h3M638.1 574.67h6M638.1 559.52h3M638.1 544.38h6M638.1 529.24h3M683.21 877.5v-3M728.32 877.5v-6M773.43 877.5v-3M818.54 877.5v-6M863.65 877.5v-3M908.76 877.5v-6M953.87 877.5v-3M998.98 877.5v-6M1044.09 877.5v-3" stroke="#000" stroke-width="2" fill="none"/>
<rect x="638.1" y="514.1" width="451.1" height="363.4" fill="none" stroke="#000" stroke-width="2.5"/>
<text x="629.5" y="883.1" font-size="16" text-anchor="end" >0</text>
<text x="629.5" y="852.82" font-size="16" text-anchor="end" >20</text>
<text x="629.5" y="822.53" font-size="16" text-anchor="end" >40</text>
<text x="629.5" y="792.25" font-size="16" text-anchor="end" >60</text>
<text x="629.5" y="761.97" font-size="16" text-anchor="end" >80</text>
<text x="629.5" y="731.68" font-size="16" text-anchor="end" >100</text>
<text x="629.5" y="701.4" font-size="16" text-anchor="end" >120</text>
<text x="629.5" y="671.12" font-size="16" text-anchor="end" >140</text>
<text x="629.5" y="640.83" font-size="16" text-anchor="end" >160</text>
<text x="629.5" y="610.55" font-size="16" text-anchor="end" >180</text>
<text x="629.5" y="580.27" font-size="16" text-anchor="end" >200</text>
<text x="629.5" y="549.98" font-size="16" text-anchor="end" >220</text>
<text x="629.5" y="519.7" font-size="16" text-anchor="end" >240</text>
<text x="638.1" y="898.4" font-size="16" text-anchor="middle" >0.0</text>
<text x="728.32" y="898.4" font-size="16" text-anchor="middle" >0.2</text>
<text x="818.54" y="898.4" font-size="16" text-anchor="middle" >0.4</text>
<text x="908.76" y="898.4" font-size="16" text-anchor="middle" >0.6</text>
<text x="998.98" y="898.4" font-size="16" text-anchor="middle" >0.8</text>
<text x="1089.2" y="898.4" font-size="16" text-anchor="middle" >1.0</text>
<text x="862.65" y="930.5" font-size="20.8" text-anchor="middle">Relative Pressure (P/P<tspan font-size="14" dy="5.6">0</tspan><tspan dy="-5.6">)</tspan></text>
<text transform="translate(596.6 695.8) rotate(-90)" x="0" y="0" font-size="21" text-anchor="middle">Volume @ STP (cm<tspan font-size="13.5" dy="-8.5">3</tspan><tspan dy="8.5"> g</tspan><tspan font-size="13.5" dy="-8.5">&#8722;1</tspan><tspan dy="8.5">)</tspan></text>
<text transform="translate(547.6 497.5) scale(1.075 1.01)" x="0" y="0" font-size="44">(d)</text>
<path d="M900.8 527.4L943.5 527.4" fill="none" stroke="#444" stroke-width="1.6" stroke-linejoin="round"/>
<path d="M922.3 522.1L927.3 527.4L922.3 532.7L917.3 527.4Z" fill="#4d4d4d"/>
<path d="M900.8 550.6L943.5 550.6" fill="none" stroke="#a9d8a0" stroke-width="1.6" stroke-linejoin="round"/>
<path d="M917.4 547.7L927.2 547.7L922.3 556.4Z" fill="#2fb04c"/>
<text x="949.1" y="533.6" font-size="15.5" text-anchor="start" >Absorption isotherm</text>
<text x="949.1" y="556.8" font-size="15.5" text-anchor="start" >Desorption isotherm</text>
<path d="M701.4 653.35h1.6M701.4 636.6h3M701.4 619.85h1.6M701.4 603.1h3M701.4 586.35h1.6M701.4 569.6h3M701.4 552.85h1.6M722.27 670.1v-1.6M743.15 670.1v-3M764.02 670.1v-1.6M784.9 670.1v-3M805.77 670.1v-1.6M826.65 670.1v-3M847.52 670.1v-1.6" stroke="#000" stroke-width="1.3" fill="none"/>
<rect x="701.4" y="536.1" width="167" height="134" fill="none" stroke="#1e1e1e" stroke-width="1.6"/>
<text x="698.6" y="674.3" font-size="12.3" text-anchor="end" >0.000</text>
<text x="698.6" y="640.8" font-size="12.3" text-anchor="end" >0.005</text>
<text x="698.6" y="607.3" font-size="12.3" text-anchor="end" >0.010</text>
<text x="698.6" y="573.8" font-size="12.3" text-anchor="end" >0.015</text>
<text x="698.6" y="540.3" font-size="12.3" text-anchor="end" >0.020</text>
<text x="701.4" y="683.4" font-size="12.3" text-anchor="middle" >0</text>
<text x="743.15" y="683.4" font-size="12.3" text-anchor="middle" >25</text>
<text x="784.9" y="683.4" font-size="12.3" text-anchor="middle" >50</text>
<text x="826.65" y="683.4" font-size="12.3" text-anchor="middle" >75</text>
<text x="868.4" y="683.4" font-size="12.3" text-anchor="middle" >100</text>
<text x="784.9" y="703.7" font-size="13.8" text-anchor="middle" >Pore Diameter (nm)</text>
<text transform="translate(666.4 604.5) rotate(-90)" x="0" y="0" font-size="13.8" text-anchor="middle">dV/dlogD <tspan font-size="10" font-weight="normal">(</tspan>cm<tspan font-size="8.5" dy="-5.5">3</tspan><tspan dy="5.5"> g</tspan><tspan font-size="8.5" dy="-5.5">&#8722;1</tspan><tspan dy="5.5"> nm</tspan><tspan font-size="8.5" dy="-5.5">&#8722;1</tspan><tspan dy="5.5" font-size="10" font-weight="normal">)</tspan></text>
<path d="M706.9 661.8L707.4 658.7L707.8 655.3L708.2 651.9L708.8 649L709.7 646.4L711 644.5L713.1 644L715.2 644L717.3 644.1L719.8 645.2L721.9 647.7L730.2 651.6L749.7 656.2L792 661.9L865.1 664.7" fill="none" stroke="#a9d8a0" stroke-width="1.3" stroke-linejoin="round"/>
<path d="M702.45 659.2L711.35 659.2L706.9 667Z" fill="#2fb04c"/>
<path d="M702.95 656.1L711.85 656.1L707.4 663.9Z" fill="#2fb04c"/>
<path d="M703.35 652.7L712.25 652.7L707.8 660.5Z" fill="#2fb04c"/>
<path d="M703.75 649.3L712.65 649.3L708.2 657.1Z" fill="#2fb04c"/>
<path d="M704.35 646.4L713.25 646.4L708.8 654.2Z" fill="#2fb04c"/>
<path d="M705.25 643.8L714.15 643.8L709.7 651.6Z" fill="#2fb04c"/>
<path d="M706.55 641.9L715.45 641.9L711 649.7Z" fill="#2fb04c"/>
<path d="M708.65 641.4L717.55 641.4L713.1 649.2Z" fill="#2fb04c"/>
<path d="M710.75 641.4L719.65 641.4L715.2 649.2Z" fill="#2fb04c"/>
<path d="M712.85 641.5L721.75 641.5L717.3 649.3Z" fill="#2fb04c"/>
<path d="M715.35 642.6L724.25 642.6L719.8 650.4Z" fill="#2fb04c"/>
<path d="M717.45 645.1L726.35 645.1L721.9 652.9Z" fill="#2fb04c"/>
<path d="M725.75 649L734.65 649L730.2 656.8Z" fill="#2fb04c"/>
<path d="M745.25 653.6L754.15 653.6L749.7 661.4Z" fill="#2fb04c"/>
<path d="M787.55 659.3L796.45 659.3L792 667.1Z" fill="#2fb04c"/>
<path d="M860.65 662.1L869.55 662.1L865.1 669.9Z" fill="#2fb04c"/>
<path d="M654.31 810.64L661.51 806.11L682.22 798.1L705.18 790.55L728.14 783.6L749.75 777.71L772.71 771.22L794.32 765.78L817.28 759.29L840.24 752.94L863.2 747.5L885.26 741.46L908.22 735.27L930.28 729.08L953.69 721.68L976.65 713.67L998.71 704.91L1021.67 695.55L1042.83 684.52L1064.44 672.44L1076.59 663.52L1082.45 653.56" fill="none" stroke="#444" stroke-width="1.6" stroke-linejoin="round"/>
<path d="M660.61 808.22L682.22 798.71L705.18 790.55L728.14 782.39L749.75 775.9L773.16 768.5L796.57 762.61L816.83 756.42L842.49 732.85L863.65 693.73L885.71 690.71L908.67 687.84L930.73 685.73L954.14 684.07L975.75 681.8L998.26 679.69L1021.67 676.82L1043.73 673.04L1064.44 666.85L1078.85 656.27L1083.35 654.01" fill="none" stroke="#a9d8a0" stroke-width="1.4" stroke-linejoin="round"/>
<path d="M654.31 805.34L659.31 810.64L654.31 815.94L649.31 810.64Z" fill="#4d4d4d"/>
<path d="M661.51 800.81L666.51 806.11L661.51 811.41L656.51 806.11Z" fill="#4d4d4d"/>
<path d="M682.22 792.8L687.22 798.1L682.22 803.4L677.22 798.1Z" fill="#4d4d4d"/>
<path d="M705.18 785.25L710.18 790.55L705.18 795.85L700.18 790.55Z" fill="#4d4d4d"/>
<path d="M728.14 778.3L733.14 783.6L728.14 788.9L723.14 783.6Z" fill="#4d4d4d"/>
<path d="M749.75 772.41L754.75 777.71L749.75 783.01L744.75 777.71Z" fill="#4d4d4d"/>
<path d="M772.71 765.92L777.71 771.22L772.71 776.52L767.71 771.22Z" fill="#4d4d4d"/>
<path d="M794.32 760.48L799.32 765.78L794.32 771.08L789.32 765.78Z" fill="#4d4d4d"/>
<path d="M817.28 753.99L822.28 759.29L817.28 764.59L812.28 759.29Z" fill="#4d4d4d"/>
<path d="M840.24 747.64L845.24 752.94L840.24 758.24L835.24 752.94Z" fill="#4d4d4d"/>
<path d="M863.2 742.2L868.2 747.5L863.2 752.8L858.2 747.5Z" fill="#4d4d4d"/>
<path d="M885.26 736.16L890.26 741.46L885.26 746.76L880.26 741.46Z" fill="#4d4d4d"/>
<path d="M908.22 729.97L913.22 735.27L908.22 740.57L903.22 735.27Z" fill="#4d4d4d"/>
<path d="M930.28 723.78L935.28 729.08L930.28 734.38L925.28 729.08Z" fill="#4d4d4d"/>
<path d="M953.69 716.38L958.69 721.68L953.69 726.98L948.69 721.68Z" fill="#4d4d4d"/>
<path d="M976.65 708.37L981.65 713.67L976.65 718.97L971.65 713.67Z" fill="#4d4d4d"/>
<path d="M998.71 699.61L1003.71 704.91L998.71 710.21L993.71 704.91Z" fill="#4d4d4d"/>
<path d="M1021.67 690.25L1026.67 695.55L1021.67 700.85L1016.67 695.55Z" fill="#4d4d4d"/>
<path d="M1042.83 679.22L1047.83 684.52L1042.83 689.82L1037.83 684.52Z" fill="#4d4d4d"/>
<path d="M1064.44 667.14L1069.44 672.44L1064.44 677.74L1059.44 672.44Z" fill="#4d4d4d"/>
<path d="M1076.59 658.23L1081.59 663.52L1076.59 668.82L1071.59 663.52Z" fill="#4d4d4d"/>
<path d="M1082.45 648.26L1087.45 653.56L1082.45 658.86L1077.45 653.56Z" fill="#4d4d4d"/>
<path d="M655.71 805.32L665.51 805.32L660.61 814.02Z" fill="#2fb04c"/>
<path d="M677.32 795.81L687.12 795.81L682.22 804.51Z" fill="#2fb04c"/>
<path d="M700.28 787.65L710.08 787.65L705.18 796.35Z" fill="#2fb04c"/>
<path d="M723.24 779.49L733.04 779.49L728.14 788.19Z" fill="#2fb04c"/>
<path d="M744.85 773L754.65 773L749.75 781.7Z" fill="#2fb04c"/>
<path d="M768.26 765.6L778.06 765.6L773.16 774.3Z" fill="#2fb04c"/>
<path d="M791.67 759.71L801.47 759.71L796.57 768.41Z" fill="#2fb04c"/>
<path d="M811.93 753.52L821.73 753.52L816.83 762.22Z" fill="#2fb04c"/>
<path d="M837.59 729.95L847.39 729.95L842.49 738.65Z" fill="#2fb04c"/>
<path d="M858.75 690.83L868.55 690.83L863.65 699.53Z" fill="#2fb04c"/>
<path d="M880.81 687.81L890.61 687.81L885.71 696.51Z" fill="#2fb04c"/>
<path d="M903.77 684.94L913.57 684.94L908.67 693.64Z" fill="#2fb04c"/>
<path d="M925.83 682.83L935.63 682.83L930.73 691.53Z" fill="#2fb04c"/>
<path d="M949.24 681.17L959.04 681.17L954.14 689.87Z" fill="#2fb04c"/>
<path d="M970.85 678.9L980.65 678.9L975.75 687.6Z" fill="#2fb04c"/>
<path d="M993.36 676.79L1003.16 676.79L998.26 685.49Z" fill="#2fb04c"/>
<path d="M1016.77 673.92L1026.57 673.92L1021.67 682.62Z" fill="#2fb04c"/>
<path d="M1038.83 670.14L1048.63 670.14L1043.73 678.84Z" fill="#2fb04c"/>
<path d="M1059.54 663.95L1069.34 663.95L1064.44 672.65Z" fill="#2fb04c"/>
<path d="M1073.95 653.38L1083.75 653.38L1078.85 662.07Z" fill="#2fb04c"/>
<path d="M1078.45 651.11L1088.25 651.11L1083.35 659.81Z" fill="#2fb04c"/>
</svg></body></html>
